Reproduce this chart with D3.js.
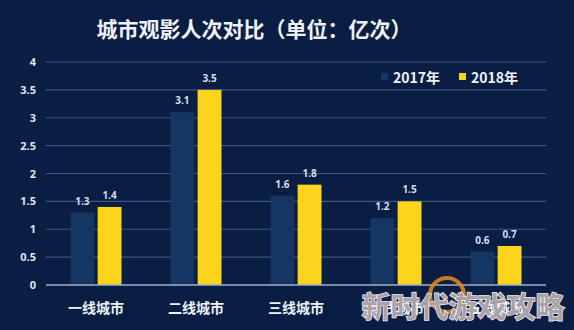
<!DOCTYPE html>
<html>
<head>
<meta charset="utf-8">
<script src="https://cdn.jsdelivr.net/npm/d3@7"></script>
<style>
  body { margin: 0; background: #0a1e43; }
  svg { display: block; font-family: "Noto Sans CJK SC", "Noto Sans", sans-serif; }
</style>
</head>
<body>
<script>
var width = 574;
var height = 330;

// data
var cities = ["一线城市", "二线城市", "三线城市", "四线城市", "五线城市"];
var series = ["2017年", "2018年"];
var v2017 = [1.3, 3.1, 1.6, 1.2, 0.6];
var v2018 = [1.4, 3.5, 1.8, 1.5, 0.7];
var yTicks = [0, 0.5, 1, 1.5, 2, 2.5, 3, 3.5, 4];

var colors = ["#153562", "#fbd51c"];

var rows = cities.map((c, i) => ({city: c, values: [v2017[i], v2018[i]]}));

var svg = d3.select("body").append("svg")
    .attr("width", width).attr("height", height);

svg.append("rect").attr("width", width).attr("height", height).attr("fill", "#0a1e43");

svg.append("text")
    .attr("x", 254).attr("y", 37)
    .attr("text-anchor", "middle")
    .attr("fill", "#eef2f8")
    .attr("font-size", 21)
    .attr("font-weight", "bold")
    .text("城市观影人次对比（单位：亿次）");

var x = d3.scaleBand().domain(cities).range([46, 546]).paddingInner(0.49).paddingOuter(0.245);
var xs = d3.scaleBand().domain(series).range([0, x.bandwidth()]).paddingInner(0.12);
var y = d3.scaleLinear().domain([0, 4]).range([285, 62]);

// grid
svg.append("g").selectAll("line")
    .data(yTicks.slice(1))
    .enter().append("line")
    .attr("x1", 46).attr("x2", 546)
    .attr("y1", d => y(d)).attr("y2", d => y(d))
    .attr("stroke", "#3a5684").attr("stroke-width", 1.2);

var yAxis = svg.append("g")
    .attr("transform", "translate(36,0)")
    .call(d3.axisLeft(y).tickValues(yTicks).tickSize(0).tickFormat(d => d));
yAxis.select(".domain").remove();
yAxis.selectAll("text")
    .attr("fill", "#dfe6f1")
    .attr("font-size", 11)
    .attr("font-weight", "bold")
    .attr("x", 0)
    .attr("font-family", "'Open Sans', 'Noto Sans', sans-serif");

// bars
var groups = svg.append("g").selectAll("g")
    .data(rows)
    .enter().append("g")
    .attr("transform", d => "translate(" + x(d.city) + ",0)");

groups.selectAll("rect")
    .data(d => d.values.map((v, i) => ({key: series[i], v: v, i: i})))
    .enter().append("rect")
    .attr("x", d => xs(d.key))
    .attr("width", xs.bandwidth())
    .attr("y", d => y(d.v))
    .attr("height", d => y(0) - y(d.v))
    .attr("fill", d => colors[d.i]);

groups.selectAll("text.val")
    .data(d => d.values.map((v, i) => ({key: series[i], v: v, i: i})))
    .enter().append("text")
    .attr("class", "val")
    .attr("x", d => xs(d.key) + xs.bandwidth() / 2)
    .attr("y", d => y(d.v) - 8)
    .attr("text-anchor", "middle")
    .attr("fill", "#d5deeb")
    .attr("font-size", 10)
    .attr("font-weight", "bold")
    .attr("font-family", "'Open Sans', 'Noto Sans', sans-serif")
    .text(d => d.v);

// baseline
svg.append("line")
    .attr("x1", 46).attr("x2", 546)
    .attr("y1", y(0)).attr("y2", y(0))
    .attr("stroke", "#9fb0cc").attr("stroke-width", 1.5);

// category labels
svg.append("g").selectAll("text")
    .data(cities)
    .enter().append("text")
    .attr("x", d => x(d) + x.bandwidth() / 2)
    .attr("y", 313)
    .attr("text-anchor", "middle")
    .attr("fill", "#eef2f8")
    .attr("font-size", 14)
    .attr("font-weight", "bold")
    .text(d => d);

// legend
var legend = svg.append("g").selectAll("g")
    .data(series)
    .enter().append("g")
    .attr("transform", (d, i) => "translate(" + (381 + i * 78) + ",72)");
legend.append("rect")
    .attr("width", 7).attr("height", 7).attr("y", 1)
    .attr("fill", (d, i) => colors[i]);
legend.append("text")
    .attr("x", 12).attr("y", 11)
    .attr("fill", "#eef2f8")
    .attr("font-size", 14)
    .attr("font-weight", "bold")
    .text(d => d);

// watermark
var wm = svg.append("g");
wm.append("circle").attr("cx", 447).attr("cy", 295).attr("r", 17)
    .attr("fill", "none").attr("stroke", "#e88a1a").attr("stroke-width", 4).attr("opacity", 0.85);
wm.append("text")
    .attr("x", 463).attr("y", 318)
    .attr("text-anchor", "middle")
    .attr("fill", "#a9a2a8")
    .attr("stroke", "#f4f0f4")
    .attr("stroke-width", 1.5)
    .attr("paint-order", "stroke")
    .attr("font-size", 29)
    .attr("font-weight", "bold")
    .text("新时代游戏攻略");
</script>
</body>
</html>
